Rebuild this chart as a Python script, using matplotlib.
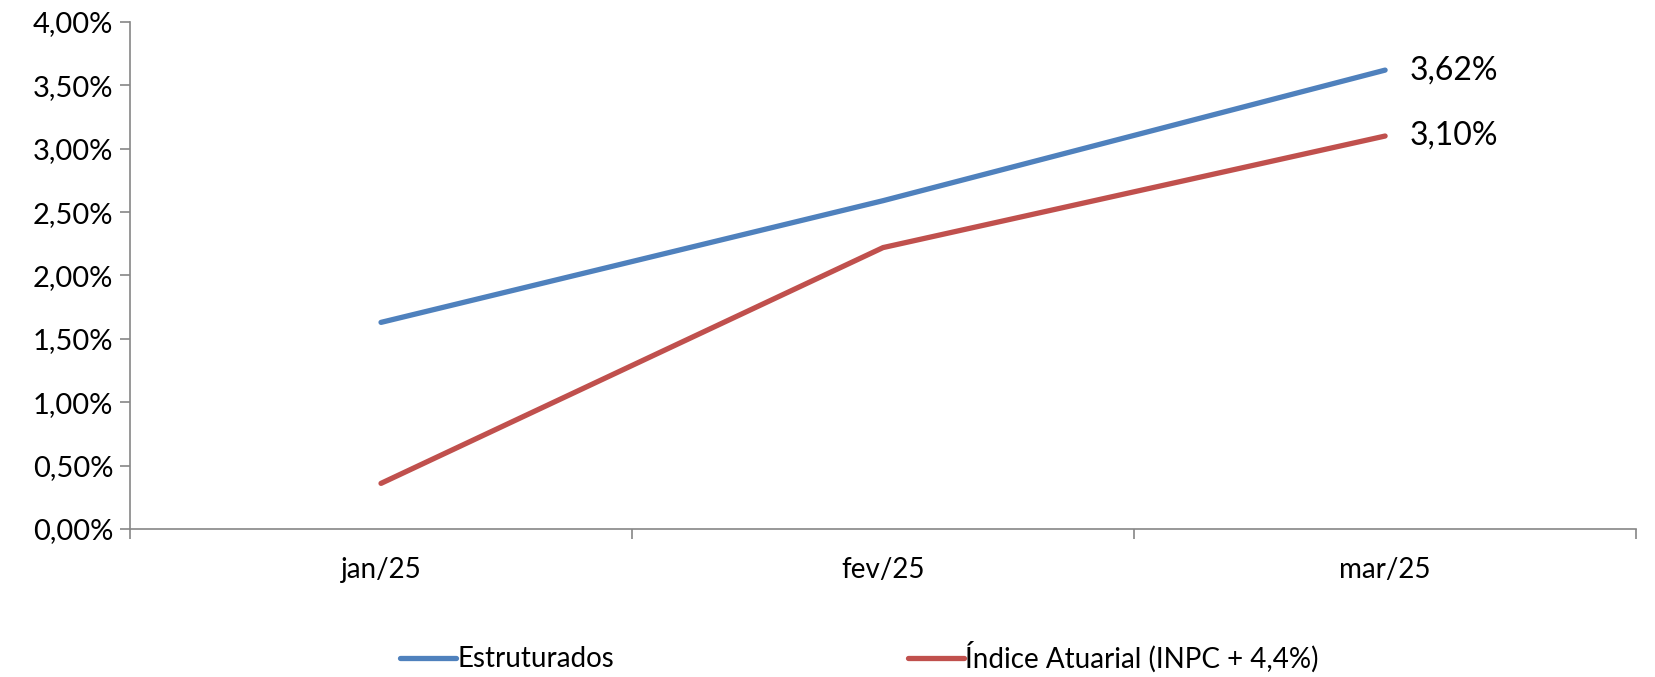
import numpy as np
import matplotlib
matplotlib.use('Agg')
import matplotlib.pyplot as plt
from matplotlib.ticker import FuncFormatter, FixedLocator

# dados
meses = ['jan/25', 'fev/25', 'mar/25']
estruturados = [1.63, 2.59, 3.62]
indice_atuarial = [0.36, 2.22, 3.10]
nomes = ['Estruturados', 'Índice Atuarial (INPC + 4,4%)']

plt.rcParams['font.family'] = ['Lato', 'DejaVu Sans']

fig = plt.figure(figsize=(16.56, 6.77), dpi=100)
ax = fig.add_axes([0.0785, 0.2186, 0.9095, 0.749])

x = np.arange(len(meses))
l1, = ax.plot(x, estruturados, color='#4F81BD', lw=3.8, solid_capstyle='round')
l2, = ax.plot(x, indice_atuarial, color='#C0504D', lw=3.8, solid_capstyle='round')

# rótulo do último ponto
for serie in (estruturados, indice_atuarial):
    ax.annotate(f'{serie[-1]:.2f}%'.replace('.', ','), (x[-1], serie[-1]),
                xytext=(18, 0), textcoords='offset points',
                va='center', ha='left', fontsize=23)

ax.set_xlim(-0.5, 2.5)
ax.set_ylim(0, 4)
ax.set_yticks(np.arange(0, 4.01, 0.5))
ax.yaxis.set_major_formatter(FuncFormatter(lambda v, p: f'{v:.2f}%'.replace('.', ',')))
ax.set_xticks(x)
ax.set_xticklabels(meses)
ax.xaxis.set_minor_locator(FixedLocator([-0.5, 0.5, 1.5, 2.5]))
ax.tick_params(axis='x', which='major', length=0, pad=20, labelsize=20)
ax.tick_params(axis='x', which='minor', length=7, color='#868686', width=1.2)
ax.tick_params(axis='y', length=7, color='#868686', width=1.2, labelsize=21, pad=5)

for s in ('top', 'right'):
    ax.spines[s].set_visible(False)
for s in ('left', 'bottom'):
    ax.spines[s].set_color('#868686')
    ax.spines[s].set_linewidth(1.2)

fig.legend([l1, l2], nomes, loc='center', bbox_to_anchor=(0.519, 0.03), ncol=2,
           frameon=False, fontsize=20, handlelength=2.0, handletextpad=0.05,
           columnspacing=10.6)

fig.savefig('out.png', dpi=100)
